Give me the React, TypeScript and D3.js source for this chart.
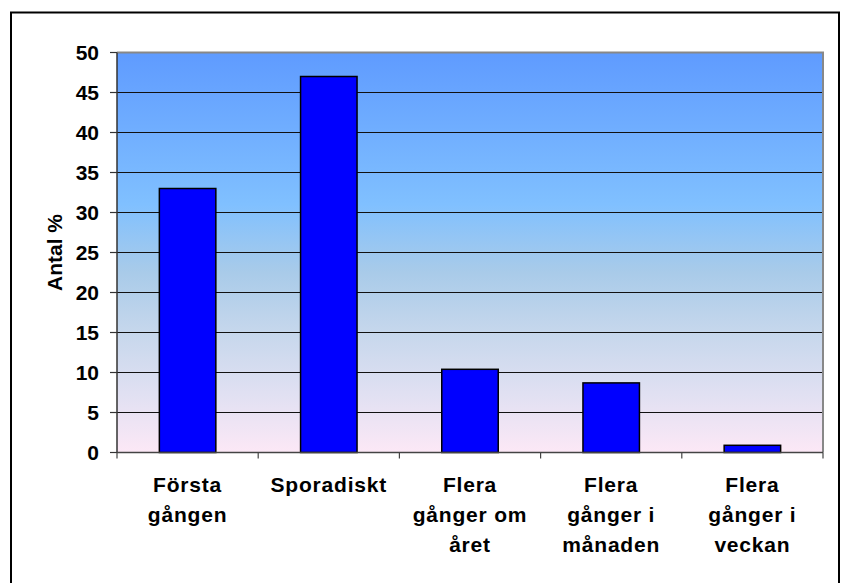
import React from 'react';
import * as d3 from 'd3';

// Frekvens (andel %) per kategori
const categories = ['Första gången', 'Sporadiskt', 'Flera gånger om året', 'Flera gånger i månaden', 'Flera gånger i veckan'];
const categoryLines = [['Första', 'gången'], ['Sporadiskt'], ['Flera', 'gånger om', 'året'], ['Flera', 'gånger i', 'månaden'], ['Flera', 'gånger i', 'veckan']];
const values = [33, 47, 10.4, 8.7, 0.9];
const yTicks = [0, 5, 10, 15, 20, 25, 30, 35, 40, 45, 50];
const yTitle = 'Antal %';

const W = 842, H = 583;
const plot = { left: 117, right: 823, top: 52.5, bottom: 452.5 };
const font = '"Liberation Sans", Arial, sans-serif';

export default function App() {
  const x = d3.scaleBand<string>()
    .domain(categories)
    .range([plot.left, plot.right])
    .paddingInner(0.6)
    .paddingOuter(0.3);
  const y = d3.scaleLinear().domain([0, 50]).range([plot.bottom, plot.top]);
  const step = x.step();
  const bounds = d3.range(categories.length + 1).map(i => plot.left + i * step);

  return (
    <div style={{ position: 'absolute', left: 0, top: 0 }}>
      <svg width={W} height={H} style={{ display: 'block', background: '#fff' }}>
        <defs>
          <linearGradient id="bg" x1="0" y1="0" x2="0" y2="1">
            <stop offset="0" stopColor="#5f9bff" />
            <stop offset="0.38" stopColor="#80c0ff" />
            <stop offset="0.55" stopColor="#a9cbe9" />
            <stop offset="0.7" stopColor="#c6d7ec" />
            <stop offset="0.85" stopColor="#e0e0f2" />
            <stop offset="1" stopColor="#fce8f6" />
          </linearGradient>
        </defs>
        {/* yttre ram */}
        <rect x={11} y={12.5} width={828} height={590} fill="none" stroke="#000" strokeWidth={2} />

        <rect x={plot.left} y={plot.top} width={plot.right - plot.left} height={plot.bottom - plot.top} fill="url(#bg)" />
        {yTicks.filter(t => t > 0 && t < 50).map(t => (
          <line key={t} x1={plot.left} x2={plot.right} y1={y(t)} y2={y(t)} stroke="#111" strokeWidth={1.2} />
        ))}
        <polyline points={`${plot.left},${plot.top} ${plot.right},${plot.top} ${plot.right},${plot.bottom}`} fill="none" stroke="#888" strokeWidth={2} />

        {values.map((v, i) => (
          <rect key={i} x={x(categories[i])} y={y(v)} width={x.bandwidth()} height={y(0) - y(v)}
            fill="#0000ff" stroke="#000" strokeWidth={1.5} />
        ))}

        {/* axlar */}
        <line x1={plot.left} x2={plot.left} y1={plot.top} y2={plot.bottom} stroke="#333" strokeWidth={1.5} />
        <line x1={plot.left} x2={plot.right} y1={plot.bottom} y2={plot.bottom} stroke="#444" strokeWidth={1.5} />
        {yTicks.map(t => (
          <g key={t}>
            <line x1={plot.left - 7} x2={plot.left} y1={y(t)} y2={y(t)} stroke="#333" strokeWidth={1.2} />
            <text x={99} y={y(t)} dy="0.36em" textAnchor="end" fontFamily={font} fontWeight="bold" fontSize={21}>{t}</text>
          </g>
        ))}
        {bounds.map((b, i) => (
          <line key={i} x1={b} x2={b} y1={plot.bottom} y2={plot.bottom + 6} stroke="#444" strokeWidth={1.2} />
        ))}
        {categoryLines.map((lines, i) => (
          <text key={i} textAnchor="middle" fontFamily={font} fontWeight="bold" fontSize={21} letterSpacing={0.8}>
            {lines.map((l, j) => (
              <tspan key={j} x={(x(categories[i]) as number) + x.bandwidth() / 2} y={491.5 + j * 30}>{l}</tspan>
            ))}
          </text>
        ))}
        <text transform={`translate(61.5,${(plot.top + plot.bottom) / 2}) rotate(-90)`} textAnchor="middle"
          fontFamily={font} fontWeight="bold" fontSize={21}>{yTitle}</text>
      </svg>
    </div>
  );
}
